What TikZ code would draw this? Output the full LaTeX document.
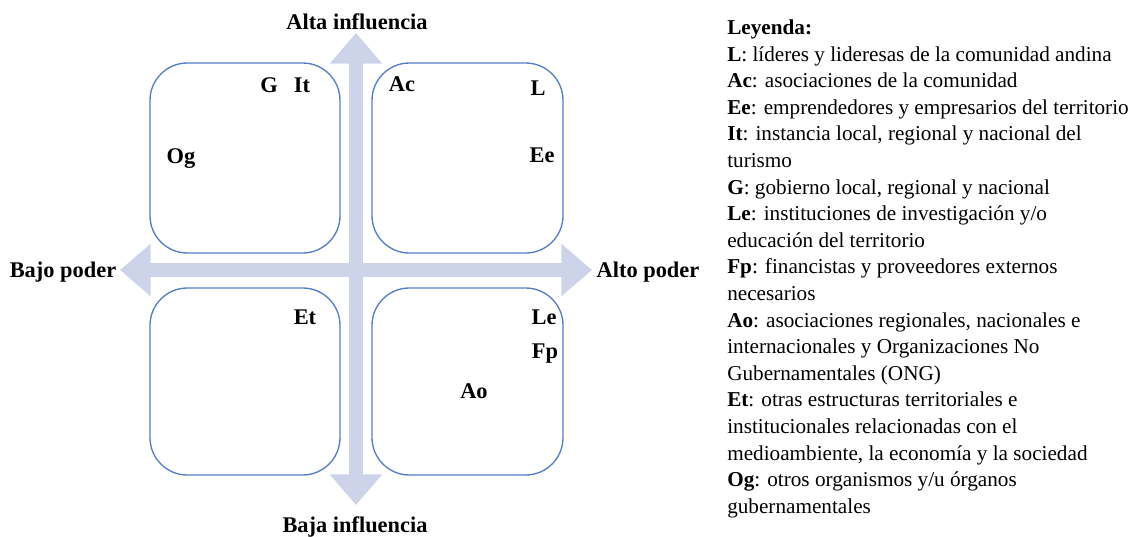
\documentclass[tikz,border=0pt]{standalone}
\usepackage{fontspec}
\setmainfont{Liberation Serif}
\usetikzlibrary{arrows.meta}
\definecolor{boxblue}{RGB}{84,125,200}
\definecolor{axisfill}{RGB}{205,212,234}
\tikzset{
  quad/.style={draw=boxblue, line width=1pt, rounded corners=28},
  axisarrow/.style={draw=axisfill, line width=11, -{Triangle[width=38,length=23]}},
  lab/.style={font=\fontsize{16.8}{18}\selectfont\bfseries, anchor=base, inner sep=0},
  leg/.style={font=\fontsize{15.9}{18}\selectfont, anchor=base west, inner sep=0},
}
\begin{document}
\begin{tikzpicture}[x=0.75pt,y=-0.75pt]
\useasboundingbox (0,0) rectangle (1146,536);
% quadrants
\draw[quad] (150,63) rectangle (340,253);
\draw[quad] (372,63) rectangle (563,253);
\draw[quad] (150,288) rectangle (340,475);
\draw[quad] (372,288) rectangle (563,475);
% axes
\coordinate (cen) at (356,270);
\coordinate (tipL) at (120,270);
\coordinate (tipR) at (592,270);
\coordinate (tipT) at (356,33);
\coordinate (tipB) at (356,505);
\draw[axisarrow] (cen) -- (tipL);
\draw[axisarrow] (cen) -- (tipR);
\draw[axisarrow] (cen) -- (tipT);
\draw[axisarrow] (cen) -- (tipB);
% axis labels
\node[lab] (alta) at (357,29) {Alta influencia};
\node[lab] (baja) at (355,532) {Baja influencia};
\node[lab] (bajop) at (63,277) {Bajo poder};
\node[lab] (altop) at (648,277) {Alto poder};
% actors
\node[lab] (G) at (269,92) {G};
\node[lab] (It) at (302,92) {It};
\node[lab] (Og) at (181,163) {Og};
\node[lab] (Ac) at (402,91) {Ac};
\node[lab] (L) at (538,95) {L};
\node[lab] (Ee) at (542,162) {Ee};
\node[lab] (Et) at (305,324) {Et};
\node[lab] (Le) at (544,324) {Le};
\node[lab] (Fp) at (545,358) {Fp};
\node[lab] (Ao) at (474,398) {Ao};
% legend
\foreach \t [count=\i from 0] in {
  {\textbf{Leyenda:}},
  {\textbf{L}: líderes y lideresas de la comunidad andina},
  {\textbf{Ac}: asociaciones de la comunidad},
  {\textbf{Ee}: emprendedores y empresarios del territorio},
  {\textbf{It}: instancia local, regional y nacional del},
  {turismo},
  {\textbf{G}: gobierno local, regional y nacional},
  {\textbf{Le}: instituciones de investigación y/o},
  {educación del territorio},
  {\textbf{Fp}: financistas y proveedores externos},
  {necesarios},
  {\textbf{Ao}: asociaciones regionales, nacionales e},
  {internacionales y Organizaciones No},
  {Gubernamentales (ONG)},
  {\textbf{Et}: otras estructuras territoriales e},
  {institucionales relacionadas con el},
  {medioambiente, la economía y la sociedad},
  {\textbf{Og}: otros organismos y/u órganos},
  {gubernamentales}}
  \node[leg] (leg\i) at (727,{34.5+26.6*\i}) {\t};
\end{tikzpicture}
\end{document}
